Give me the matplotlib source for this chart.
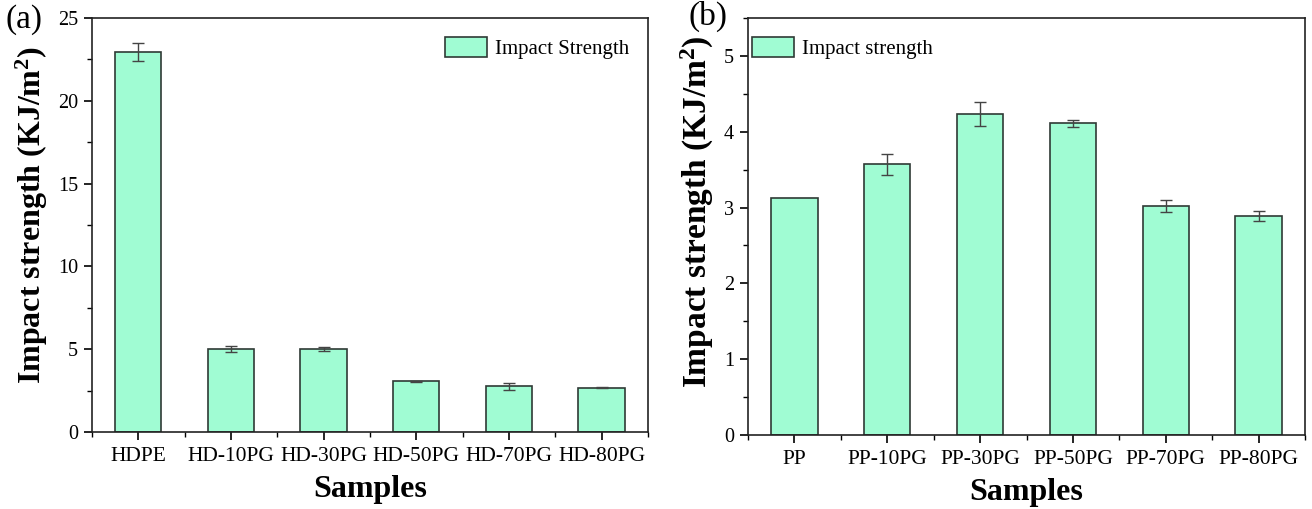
import matplotlib
matplotlib.use("Agg")
import matplotlib.pyplot as plt
from matplotlib.ticker import MultipleLocator
import numpy as np

plt.rcParams['font.family'] = ['Liberation Serif', 'DejaVu Serif']
plt.rcParams['mathtext.fontset'] = 'custom'
plt.rcParams['mathtext.rm'] = 'Liberation Serif'
plt.rcParams['mathtext.bf'] = 'Liberation Serif:bold'

samples_a = ["HDPE", "HD-10PG", "HD-30PG", "HD-50PG", "HD-70PG", "HD-80PG"]
values_a = [22.95, 5.02, 5.01, 3.05, 2.76, 2.68]
errors_a = [0.55, 0.2, 0.1, 0.03, 0.2, 0.05]

samples_b = ["PP", "PP-10PG", "PP-30PG", "PP-50PG", "PP-70PG", "PP-80PG"]
values_b = [3.12, 3.57, 4.23, 4.11, 3.02, 2.89]
errors_b = [0.0, 0.14, 0.16, 0.05, 0.08, 0.07]

bar_color = '#a0fcd3'
edge_color = '#2f3a35'

fig = plt.figure(figsize=(13.12, 5.09), dpi=100)
ax1 = fig.add_axes([0.0701, 0.1513, 0.4238, 0.8133])
ax2 = fig.add_axes([0.5701, 0.1454, 0.4246, 0.8192])

def draw(ax, names, vals, errs, ymax, major, minor, legend_label, legend_loc, anchor,
         ylab_size, ylab_y):
    x = np.arange(len(names))
    vals = np.asarray(vals, dtype=float)
    errs = np.asarray(errs, dtype=float)
    ax.bar(x, vals, width=0.5, color=bar_color, edgecolor=edge_color, linewidth=1.2,
           label=legend_label, zorder=2)
    m = errs > 0
    ax.errorbar(x[m], vals[m], yerr=errs[m], fmt='none', ecolor='#444444', elinewidth=1.0,
                capsize=4, capthick=1.0, zorder=3)
    ax.set_xlim(-0.5, len(names) - 0.5)
    ax.set_ylim(0, ymax)
    ax.set_xticks(x)
    ax.set_xticklabels(names, fontsize=15.5)
    ax.xaxis.set_minor_locator(MultipleLocator(0.5))
    ax.yaxis.set_major_locator(MultipleLocator(major))
    ax.yaxis.set_minor_locator(MultipleLocator(minor))
    ax.tick_params(axis='both', which='major', direction='out', length=6, width=1.2)
    ax.tick_params(axis='both', which='minor', direction='out', length=3.5, width=1.0)
    ax.tick_params(axis='x', which='major', pad=5, labelsize=15.5)
    ax.tick_params(axis='y', which='major', pad=4, labelsize=14.5)
    for s in ax.spines.values():
        s.set_linewidth(1.2)
        s.set_color('#222222')
    ax.set_xlabel("Samples", fontsize=23, fontweight='bold', labelpad=6)
    ax.set_ylabel(r"Impact strength (KJ/m$\mathbf{^2}$)", fontsize=ylab_size,
                  fontweight='bold', labelpad=6)
    ax.yaxis.label.set_y(ylab_y)
    ax.legend(loc=legend_loc, bbox_to_anchor=anchor, frameon=False, fontsize=15,
              handlelength=2.0, handleheight=1.1, handletextpad=0.4)

draw(ax1, samples_a, values_a, errors_a, 25, 5, 2.5, "Impact Strength", 'upper right',
     (1.0, 1.0), 23, 0.524)
draw(ax2, samples_b, values_b, errors_b, 5.5, 1, 0.5, "Impact strength", 'upper left',
     (-0.026, 1.0), 24, 0.535)

fig.text(0.004, 0.992, "(a)", fontsize=24, va='top')
fig.text(0.5244, 0.998, "(b)", fontsize=24, va='top')

fig.savefig("out.png", dpi=100)
